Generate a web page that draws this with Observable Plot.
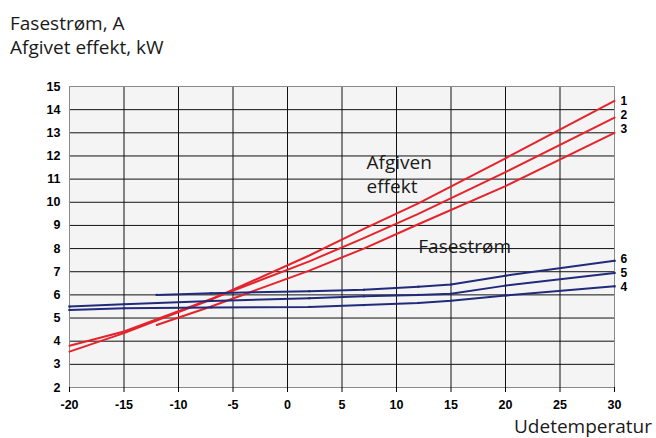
<!DOCTYPE html>
<html>
<head>
<meta charset="utf-8">
<script src="https://cdn.jsdelivr.net/npm/d3@7"></script>
<script src="https://cdn.jsdelivr.net/npm/@observablehq/plot@0.6"></script>
<style>
  html, body { margin: 0; padding: 0; background: #fff; }
  #wrap { position: relative; width: 656px; height: 438px; overflow: hidden; }
  .ttl { position: absolute; font-family: "Open Sans", sans-serif; font-size: 19px; line-height: 20px; color: #1a1a1a; white-space: nowrap; }
</style>
</head>
<body>
<div id="wrap">
  <div class="ttl" id="t1" style="left:10px; top:13px;">Fasestrøm, A</div>
  <div class="ttl" id="t2" style="left:10px; top:37px;">Afgivet effekt, kW</div>
  <div class="ttl" id="xl" style="right:4px; top:418px; line-height:16px;">Udetemperatur</div>
</div>
<script>
// Temperatures (°C) of the read points
const tempsRed = [-20, -15, -7, 2, 7, 12, 20, 30];
const tempsRed3 = [-12, -7, 2, 7, 12, 20, 30];
const tempsBlue = [-20, -15, -7, 2, 7, 12, 15, 20, 30];
const tempsBlue6 = [-12, -7, 2, 7, 12, 15, 20, 30];

// Afgiven effekt, kW (red)
const curve1 = [3.55, 4.35, 5.80, 7.70, 8.85, 9.95, 11.90, 14.38];
const curve2 = [3.80, 4.42, 5.82, 7.45, 8.45, 9.50, 11.30, 13.66];
const curve3 = [4.70, 5.50, 7.05, 8.00, 9.05, 10.70, 13.00];

// Fasestrøm, A (blue)
const curve4 = [5.35, 5.42, 5.46, 5.48, 5.56, 5.65, 5.75, 5.97, 6.37];
const curve5 = [5.50, 5.60, 5.74, 5.86, 5.94, 6.00, 6.05, 6.40, 6.95];
const curve6 = [6.00, 6.07, 6.16, 6.22, 6.35, 6.45, 6.83, 7.47];

const xTicks = [-20, -15, -10, -5, 0, 5, 10, 15, 20, 25, 30];
const yTicks = [2, 3, 4, 5, 6, 7, 8, 9, 10, 11, 12, 13, 14, 15];

// end-label vertical nudges (px), as seen in the reference
const labelNudge = {"1": 0, "2": -2, "3": -4, "4": 1, "5": 0, "6": -2};

const seriesDefs = [
  {id: "1", kind: "red", temps: tempsRed, vals: curve1},
  {id: "2", kind: "red", temps: tempsRed, vals: curve2},
  {id: "3", kind: "red", temps: tempsRed3, vals: curve3},
  {id: "4", kind: "blue", temps: tempsBlue, vals: curve4},
  {id: "5", kind: "blue", temps: tempsBlue, vals: curve5},
  {id: "6", kind: "blue", temps: tempsBlue6, vals: curve6}
];
const rows = seriesDefs.flatMap(s => s.temps.map((t, i) => ({id: s.id, kind: s.kind, t, v: s.vals[i]})));
const blueRows = rows.filter(d => d.kind === "blue");

const RED = "#e4232b", BLUE = "#222b7b";

const endLabels = seriesDefs.map(s =>
  Plot.text([s], {
    x: d => d.temps[d.temps.length - 1],
    y: d => d.vals[d.vals.length - 1],
    text: d => d.id,
    textAnchor: "start", dx: 6, dy: labelNudge[s.id],
    fontSize: 12, fontWeight: "bold", fill: "#000"
  })
);

const chart = Plot.plot({
  width: 656,
  height: 438,
  marginTop: 86,
  marginBottom: 51,
  marginLeft: 69,
  marginRight: 42,
  style: {fontFamily: "'Liberation Sans', Arial, sans-serif", background: "transparent", color: "#000"},
  x: {domain: [-20, 30]},
  y: {domain: [2, 15]},
  marks: [
    Plot.frame({fill: "#f4f4f4", stroke: null}),
    Plot.gridX(xTicks.slice(1, -1), {stroke: "#111", strokeOpacity: 1}),
    Plot.gridY(yTicks.slice(1, -1), {stroke: "#111", strokeOpacity: 1}),
    Plot.ruleY([2], {stroke: "#111"}),
    Plot.frame({stroke: "#8a8a8a"}),
    Plot.axisX(xTicks, {tickSize: 5, tickPadding: 8, fontSize: 12.5, fontWeight: "bold", tickFormat: d => String(d), label: null}),
    Plot.axisY(yTicks, {tickSize: 0, tickPadding: 9, fontSize: 12.5, fontWeight: "bold", tickFormat: d => String(d), label: null}),
    Plot.line(rows, {x: "t", y: "v", z: "id", stroke: d => d.kind === "red" ? RED : BLUE, strokeWidth: 2, curve: "linear"}),
    Plot.dot(blueRows, {x: "t", y: "v", symbol: "square", r: 1.2, fill: BLUE, stroke: null}),
    ...endLabels,
    Plot.text(["Afgiven\neffekt"], {x: 7.25, y: 12.2, text: d => d, textAnchor: "start", lineAnchor: "top", lineHeight: 1.28, fontSize: 19, fontFamily: "'Open Sans', sans-serif", fill: "#1a1a1a"}),
    Plot.text(["Fasestrøm"], {x: 12.0, y: 8.4, text: d => d, textAnchor: "start", lineAnchor: "top", fontSize: 19, fontFamily: "'Open Sans', sans-serif", fill: "#1a1a1a"})
  ]
});
chart.style.position = "absolute";
chart.style.left = "0px";
chart.style.top = "0px";
document.getElementById("wrap").prepend(chart);
</script>
</body>
</html>
